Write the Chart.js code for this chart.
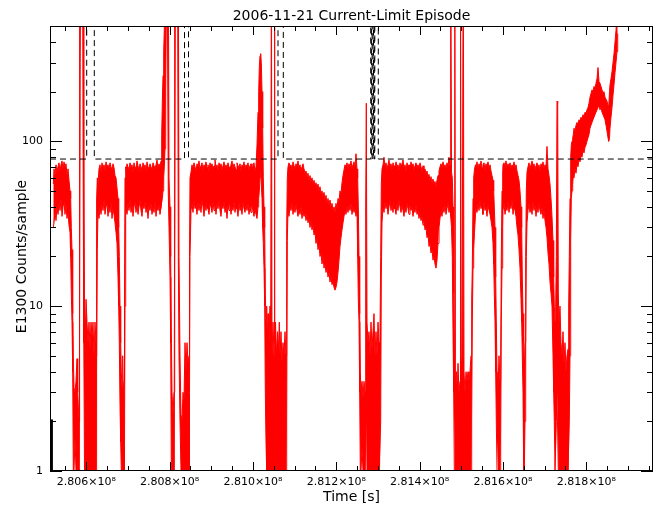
<!DOCTYPE html>
<html>
<head>
<meta charset="utf-8">
<script src="https://cdn.jsdelivr.net/npm/chart.js@4.4.1/dist/chart.umd.min.js"></script>
<style>
  html, body { margin: 0; padding: 0; background: #fff; }
  #wrap { width: 664px; height: 511px; }
</style>
</head>
<body>
<div id="wrap"><canvas id="episodeChart" width="664" height="511"></canvas></div>
<script>
// E1300 counts/sample, 2006-11-21. Time in seconds; each sample is the low/high envelope of the noisy trace.
// 2000 means the trace runs off the top of the plot.
const redTime = [
  280520820, 280522500, 280524900, 280527300, 280529700, 280532100, 280534500, 280536900, 280539300, 280541700,
  280544100, 280546500, 280548900, 280551300, 280553700, 280556100, 280558500, 280560900, 280562580, 280564020,
  280565700, 280567380, 280568820, 280570500, 280572900, 280575300, 280577700, 280579380, 280581300, 280582980,
  280583940, 280585380, 280587300, 280590900, 280592580, 280594020, 280595700, 280597620, 280599300, 280601700,
  280604100, 280606500, 280608900, 280611300, 280613700, 280616100, 280618500, 280620900, 280623300, 280624260,
  280625220, 280626420, 280628100, 280630500, 280632900, 280635300, 280637700, 280640100, 280642500, 280644900,
  280647300, 280649700, 280652100, 280654500, 280656900, 280659300, 280661700, 280664100, 280666500, 280668900,
  280671300, 280673700, 280676100, 280677780, 280679220, 280680900, 280682580, 280684020, 280685700, 280687380,
  280688820, 280690500, 280691700, 280692900, 280694580, 280695300, 280697700, 280700100, 280702500, 280704900,
  280707300, 280709700, 280712100, 280714500, 280716900, 280719300, 280721700, 280724100, 280726500, 280728900,
  280731300, 280733700, 280736100, 280738500, 280740900, 280743300, 280745700, 280748100, 280750500, 280752900,
  280755300, 280757700, 280760100, 280762500, 280764900, 280767300, 280769700, 280772100, 280774500, 280776900,
  280779300, 280780980, 280782420, 280784100, 280785780, 280787220, 280788900, 280790580, 280793700, 280796820,
  280798500, 280800900, 280802580, 280804020, 280805700, 280808100, 280810500, 280812180, 280814100, 280818900,
  280820820, 280822500, 280824900, 280827300, 280829700, 280832100, 280834500, 280836900, 280839300, 280841700,
  280844100, 280846500, 280847700, 280848900, 280851300, 280853700, 280856100, 280858500, 280860900, 280863300,
  280865700, 280868100, 280870500, 280872900, 280875300, 280877700, 280880100, 280882500, 280884900, 280887300,
  280889700, 280892100, 280894500, 280896900, 280899300, 280901700, 280904100, 280906500, 280908900, 280911300,
  280913700, 280916100, 280918500, 280920900, 280923300, 280925700, 280928100, 280930500, 280932900, 280935300,
  280937700, 280940100, 280942500, 280944900, 280947300, 280949700, 280952100, 280954500, 280956900, 280959300,
  280961700, 280964100, 280966500, 280968900, 280971300, 280973700, 280976100, 280978500, 280980900, 280983300,
  280985700, 280988100, 280990500, 280992900, 280995300, 280997700, 281000100, 281002500, 281004900, 281007300,
  281009700, 281012100, 281013780, 281015220, 281016900, 281018580, 281020020, 281021700, 281023380, 281024820,
  281026500, 281028180, 281029620, 281031300, 281032980, 281034420, 281036100, 281037780, 281039220, 281040900,
  281042580, 281044260, 281045700, 281048100, 281050500, 281051460, 281052660, 281054100, 281056500, 281058900,
  281061300, 281063220, 281064900, 281067300, 281069700, 281072100, 281074500, 281076900, 281079300, 281080980,
  281082420, 281084100, 281086500, 281088900, 281091300, 281093700, 281096100, 281098500, 281100900, 281103300,
  281105700, 281108100, 281110500, 281112900, 281115300, 281117700, 281120100, 281122500, 281124900, 281127300,
  281129700, 281132100, 281134500, 281136900, 281139300, 281141700, 281144100, 281146500, 281148900, 281151300,
  281153700, 281156100, 281158500, 281160900, 281163300, 281165700, 281168100, 281170500, 281172900, 281175300,
  281177700, 281180100, 281182500, 281184900, 281187300, 281189700, 281192100, 281194500, 281196900, 281199300,
  281201700, 281204100, 281206500, 281208900, 281211300, 281213700, 281216100, 281218500, 281220900, 281223300,
  281225700, 281228100, 281230500, 281232900, 281235300, 281237700, 281240100, 281242500, 281244900, 281247300,
  281249700, 281251380, 281252820, 281254500, 281256180, 281257620, 281259300, 281261700, 281264100, 281266500,
  281268900, 281270580, 281272020, 281273700, 281276100, 281278500, 281280900, 281283300, 281285700, 281288100,
  281290500, 281292900, 281295300, 281297700, 281300100, 281302500, 281304900, 281306580, 281308020, 281309700,
  281312100, 281314500, 281316900, 281319300, 281321700, 281324100, 281326500, 281328900, 281331300, 281333700,
  281336100, 281338500, 281340900, 281343300, 281345700, 281348100, 281350500, 281352900, 281355300, 281357700,
  281360100, 281362500, 281364900, 281367300, 281369700, 281372100, 281374500, 281376900, 281379300, 281381700,
  281384100, 281386500, 281388900, 281391300, 281393700, 281396100, 281398500, 281400900, 281403300, 281405700,
  281408100, 281410500, 281412900, 281415300, 281417700, 281420100, 281422500, 281424900, 281427300, 281429700,
  281432100, 281434500, 281436900, 281439300, 281441700, 281444100, 281446500, 281448900, 281451300, 281453700,
  281456100, 281458500, 281460900, 281463300, 281465700, 281468100, 281470500, 281472900, 281474580, 281476500,
  281478420, 281480100, 281481780, 281483220, 281484420, 281485860, 281488500, 281490420, 281492100, 281494500,
  281496900, 281498100, 281499780, 281501700, 281504820, 281506500, 281508900, 281511300, 281513700, 281516100,
  281518500, 281520900, 281523300, 281524980, 281526420, 281528100, 281529780, 281531700, 281534100, 281535300,
  281537700, 281540100, 281542500, 281544900, 281547300, 281549700, 281552100, 281554500, 281556900, 281559300,
  281561700, 281564100, 281566500, 281568900, 281571300, 281573700, 281576100, 281577780, 281579220, 281580900,
  281582580, 281584020, 281585700, 281588100, 281590500, 281592900, 281594580, 281596020, 281597700, 281599380,
  281600100, 281602500, 281604900, 281607300, 281609700, 281612100, 281614500, 281616900, 281619300, 281621700,
  281624100, 281626500, 281628900, 281631300, 281633700, 281636100, 281638500, 281640900, 281643300, 281644980,
  281646420, 281648100, 281649780, 281651220, 281652900, 281654580, 281656020, 281657700, 281660100, 281662500,
  281664900, 281667300, 281669700, 281672100, 281674500, 281676900, 281679300, 281681700, 281684100, 281686500,
  281688900, 281691300, 281693700, 281696100, 281698500, 281700900, 281703300, 281705700, 281708100, 281710500,
  281712900, 281715300, 281717700, 281720100, 281721780, 281723220, 281724900, 281726580, 281728020, 281729700,
  281731380, 281732820, 281734500, 281736900, 281739300, 281741700, 281744100, 281746500, 281748900, 281751300,
  281753700, 281756100, 281757780, 281759220, 281760900, 281762580, 281764020, 281765700, 281767380, 281768820,
  281770500, 281772900, 281775300, 281777700, 281780100, 281782500, 281784900, 281787300, 281789700, 281792100,
  281794500, 281796900, 281799300, 281801700, 281804100, 281806500, 281808900, 281811300, 281813700, 281816100,
  281818500, 281820900, 281823300, 281825700, 281828100, 281830500, 281832900, 281835300, 281837700, 281840100,
  281842500, 281844900, 281847300, 281849700, 281852100, 281853780, 281855700, 281856900, 281859300, 281861700,
  281864100, 281866500, 281868900, 281871300, 281873700, 281875380
];
const redLow = [
  30, 32, 37, 33, 40, 36, 42, 38, 45, 35,
  40, 43, 36, 41, 34, 37, 31, 28, 20, 12,
  8, 4, 1, 1, 1.6, 1, 1, 1, 1, 1,
  1, 300, 2000, 2000, 56, 6, 1, 1, 1, 1,
  1, 1, 1, 1, 1, 1, 1, 1, 1, 2,
  4, 22, 38, 34, 40, 36, 42, 38, 44, 36,
  40, 42, 35, 40, 37, 43, 34, 39, 36, 32,
  28, 24, 15, 10, 6, 2.5, 1.5, 1, 1, 1,
  1, 1, 1.4, 10, 36, 40, 36, 42, 38, 44,
  37, 41, 35, 40, 43, 37, 41, 36, 40, 44,
  38, 35, 41, 39, 43, 37, 40, 34, 41, 38,
  42, 36, 40, 37, 43, 35, 40, 38, 41, 36,
  40, 40, 45, 50, 60, 70, 90, 200, 2000, 48,
  30, 15, 6, 1, 1, 1, 1, 1, 2000, 2000,
  20, 5, 2, 1, 1, 1, 1, 1, 1, 1,
  1, 1, 3, 20, 38, 42, 37, 44, 39, 41,
  36, 43, 38, 42, 37, 44, 40, 35, 41, 38,
  43, 39, 36, 42, 40, 37, 43, 38, 41, 36,
  42, 39, 44, 38, 35, 41, 39, 43, 37, 40,
  34, 41, 38, 42, 36, 40, 38, 43, 37, 41,
  39, 35, 42, 38, 40, 36, 43, 39, 37, 41,
  38, 42, 36, 40, 37, 41, 38, 35, 39, 36,
  34, 40, 45, 50, 60, 70, 55, 45, 30, 24,
  17, 10, 3, 1.5, 1, 1, 1, 1, 1, 1,
  1, 1, 1, 1, 1, 1, 1, 1, 1, 1,
  1, 1, 1, 1, 1, 1, 1, 1, 1, 2,
  25, 38, 35, 40, 38, 42, 36, 40, 37, 41,
  38, 35, 39, 36, 40, 34, 38, 35, 37, 33,
  36, 32, 34, 30, 33, 29, 31, 27, 28, 24,
  26, 22, 24, 20, 21, 18, 20, 17, 18, 16,
  17, 15, 16, 14, 15, 13.5, 14, 13, 12.5, 13,
  14, 16, 19, 23, 26, 29, 32, 35, 38, 36,
  40, 37, 41, 38, 42, 36, 40, 37, 39, 35,
  38, 20, 11, 8, 3, 1, 1, 1.4, 1, 1,
  1, 1, 3, 1, 1, 1, 1, 1, 1, 1,
  1, 1, 1, 1, 1, 1, 1, 2, 15, 32,
  40, 37, 43, 39, 42, 36, 40, 44, 38, 41,
  37, 43, 39, 36, 42, 38, 44, 40, 37, 41,
  38, 35, 40, 37, 42, 39, 36, 41, 38, 40,
  35, 39, 37, 41, 36, 38, 34, 37, 33, 35,
  31, 33, 29, 30, 26, 27, 23, 24, 21, 22,
  19, 20, 18, 17, 19, 24, 30, 34, 38, 35,
  40, 37, 41, 36, 39, 42, 37, 40, 35, 30,
  20, 7, 3, 1, 1, 1, 1, 1, 1, 1,
  1, 1, 1, 1, 1, 1, 1, 1, 1, 1,
  1, 1, 1, 2, 8, 17, 22, 28, 36, 40,
  37, 42, 38, 44, 39, 41, 36, 43, 38, 40,
  35, 41, 38, 36, 33, 30, 24, 18, 12, 8,
  4, 2, 1, 1, 1, 1, 1.5, 8, 17, 30,
  38, 42, 36, 40, 38, 43, 37, 41, 39, 44,
  36, 40, 38, 35, 30, 27, 22, 17, 11, 8,
  5, 3, 1, 1, 2, 6, 20, 32, 38, 42,
  37, 40, 36, 43, 38, 41, 35, 40, 37, 42,
  38, 36, 40, 34, 38, 33, 30, 26, 21, 18,
  14, 12, 10, 5, 3, 2, 1, 1, 2, 3,
  3, 1, 1, 1, 1, 1, 1, 1, 1, 1,
  1, 1, 1, 2, 5, 25, 45, 50, 55, 62,
  60, 68, 64, 72, 70, 78, 75, 82, 80, 88,
  85, 92, 95, 100, 105, 110, 120, 125, 130, 135,
  140, 145, 150, 155, 160, 165, 155, 160, 150, 145,
  140, 135, 125, 115, 105, 100, 105, 120, 140, 160,
  190, 220, 260, 300, 350, 450
];
const redHigh = [
  55, 68, 62, 72, 65, 70, 74, 66, 72, 76,
  68, 75, 70, 73, 62, 68, 58, 50, 45, 30,
  22, 9, 5, 3.2, 3, 3.5, 4.8, 3, 2.3, 2,
  2000, 2000, 2000, 2000, 2000, 56, 9, 7, 11, 8,
  6, 8, 5.5, 8, 6.5, 8, 5, 8, 6, 5,
  44, 60, 55, 68, 72, 65, 74, 68, 72, 66,
  75, 70, 72, 68, 74, 70, 67, 73, 69, 62,
  60, 52, 45, 30, 20, 10, 6, 4, 3.2, 5,
  3, 3.5, 12, 60, 70, 66, 73, 70, 67, 74,
  69, 72, 65, 74, 70, 68, 76, 71, 66, 73,
  70, 67, 74, 69, 72, 66, 75, 70, 68, 73,
  70, 67, 74, 71, 68, 72, 77, 69, 73, 70,
  76, 110, 170, 250, 350, 480, 2000, 2000, 2000, 2000,
  60, 40, 20, 7, 3, 2.2, 3, 2000, 2000, 2000,
  2000, 20, 5, 2.2, 2, 3, 2.7, 6, 4, 6,
  4.5, 5, 20, 60, 65, 72, 68, 74, 70, 66,
  73, 70, 76, 68, 71, 74, 67, 72, 70, 75,
  69, 72, 66, 74, 70, 73, 68, 71, 77, 69,
  72, 66, 74, 70, 73, 67, 71, 75, 69, 72,
  68, 74, 70, 66, 72, 76, 68, 73, 70, 67,
  74, 71, 69, 73, 66, 72, 70, 75, 68, 72,
  70, 74, 67, 71, 73, 68, 70, 74, 66, 70,
  95, 150, 200, 280, 330, 340, 300, 200, 120, 60,
  40, 30, 12, 8, 10, 6, 9, 5, 7, 10,
  6, 2000, 5, 8, 5, 2000, 6, 8, 5, 7,
  5.5, 8, 5, 7, 4.5, 6, 5, 7, 5, 30,
  60, 70, 74, 70, 72, 67, 75, 71, 68, 73,
  70, 76, 69, 72, 66, 70, 73, 68, 64, 66,
  61, 64, 58, 62, 57, 60, 55, 58, 54, 56,
  52, 55, 50, 53, 48, 50, 46, 49, 44, 47,
  42, 45, 41, 44, 40, 42, 38, 40, 37, 42,
  39, 45, 43, 50, 48, 56, 62, 67, 72, 70,
  74, 68, 73, 70, 76, 69, 72, 75, 70, 84,
  68, 60, 40, 20, 9, 4, 3, 3.5, 2.8, 3.5,
  3, 40, 170, 8, 6, 7, 5, 8, 5.5, 7,
  9, 5, 7, 5, 8, 6, 7, 20, 55, 68,
  72, 80, 70, 74, 68, 72, 77, 70, 73, 67,
  74, 71, 69, 75, 70, 72, 67, 74, 70, 73,
  77, 69, 72, 66, 74, 70, 72, 68, 75, 70,
  73, 67, 71, 74, 69, 72, 68, 74, 70, 66,
  71, 65, 68, 63, 66, 61, 63, 58, 61, 56,
  59, 55, 57, 53, 58, 62, 66, 70, 73, 69,
  75, 70, 72, 68, 74, 70, 80, 71, 2000, 65,
  60, 40, 12, 5, 2000, 3.5, 4, 3, 4.5, 3,
  3.5, 2000, 4, 5, 2000, 4, 3, 4, 3.5, 4,
  3, 4, 5, 11, 17, 45, 60, 68, 72, 70,
  75, 68, 73, 70, 76, 69, 72, 74, 67, 73,
  70, 75, 68, 72, 66, 62, 58, 50, 40, 30,
  15, 8, 4, 3, 5, 3.5, 5, 20, 50, 65,
  72, 74, 70, 76, 69, 73, 70, 74, 68, 72,
  70, 75, 69, 72, 66, 62, 58, 50, 40, 30,
  15, 9, 6, 4, 6, 20, 50, 65, 70, 74,
  68, 72, 76, 70, 73, 67, 71, 74, 69, 72,
  66, 73, 70, 75, 68, 72, 70, 93, 68, 62,
  55, 45, 35, 25, 15, 10, 8, 10, 20, 175,
  170, 12, 8, 10, 6, 5, 7, 4.5, 6, 4,
  5, 5.5, 10, 20, 45, 80, 95, 100, 105, 110,
  120, 115, 125, 130, 128, 135, 132, 140, 137, 145,
  142, 150, 148, 155, 160, 170, 185, 195, 205, 200,
  215, 210, 225, 240, 280, 230, 225, 215, 205, 195,
  200, 185, 180, 175, 165, 160, 200, 220, 240, 265,
  300, 340, 400, 470, 600, 2000
];

// black trace, only visible at the left edge
const blackTime = [280513000, 280519900];
const blackLow = [1, 1];
const blackHigh = [2.04, 2.04];

// current-limit level (dashed); jumps off the top during the episodes
const limitTime = [280512900, 280600980, 280619220, 280835700, 280845300, 281060100, 281072820,
  281282580, 281284740, 281285940, 281288100, 281289300, 281291220, 281292420, 281300820, 281960100];
const limitLevel = [78, 2000, 78, 2000, 78, 2000, 78, 2000, 78, 2000, 78, 2000, 78, 2000, 78, 78];

const xLabelTicks = [280600000, 280800000, 281000000, 281200000, 281400000, 281600000, 281800000];
const yLabelTicks = [1, 10, 100];
const xRange = [280512900, 281960100];
const yRange = [1, 500];

const toPoints = (ts, vs) => ts.map((t, i) => ({ x: t, y: vs[i] }));

// IDL style frame: box, inward ticks on all four sides, titles
const idlFrame = {
  id: 'idlFrame',
  afterDraw(chart) {
    const { ctx, chartArea: area, scales: { x, y } } = chart;
    ctx.save();
    ctx.strokeStyle = '#000';
    ctx.lineWidth = 1;
    ctx.strokeRect(area.left + 0.5, area.top + 0.5, area.width - 1, area.height - 1);

    ctx.beginPath();
    for (let v = Math.ceil(x.min / 5e4) * 5e4; v <= x.max; v += 5e4) {
      const px = Math.round(x.getPixelForValue(v)) + 0.5;
      const len = v % 2e5 === 0 ? 9 : 5;
      ctx.moveTo(px, area.bottom);
      ctx.lineTo(px, area.bottom - len);
      ctx.moveTo(px, area.top);
      ctx.lineTo(px, area.top + len);
    }
    for (let d = 1; d <= 100; d *= 10) {
      for (let m = 1; m <= 9; m++) {
        const v = d * m;
        if (v > y.max) break;
        const py = Math.round(y.getPixelForValue(v)) + 0.5;
        const len = m === 1 ? 12 : 6;
        ctx.moveTo(area.left, py);
        ctx.lineTo(area.left + len, py);
        ctx.moveTo(area.right, py);
        ctx.lineTo(area.right - len, py);
      }
    }
    ctx.stroke();

    const midX = (area.left + area.right) / 2;
    ctx.fillStyle = '#000';
    ctx.font = '14px "DejaVu Sans"';
    ctx.textAlign = 'center';
    ctx.textBaseline = 'middle';
    ctx.fillText('2006-11-21 Current-Limit Episode', midX, 16);
    ctx.fillText('Time [s]', midX, 497);
    ctx.translate(22, (area.top + area.bottom) / 2 + 8);
    ctx.rotate(-Math.PI / 2);
    ctx.fillText('E1300 Counts/sample', 0, 0);
    ctx.restore();
  }
};

Chart.defaults.font.family = '"DejaVu Sans", sans-serif';
Chart.defaults.color = '#000';

const line = { pointRadius: 0, borderWidth: 1, tension: 0, clip: 0 };

new Chart(document.getElementById('episodeChart'), {
  type: 'line',
  data: {
    datasets: [
      { ...line, data: toPoints(limitTime, limitLevel), borderColor: '#000', borderDash: [6, 4], stepped: true, fill: false },
      { ...line, data: toPoints(redTime, redHigh), borderColor: '#ff0000', backgroundColor: '#ff0000', fill: '+1' },
      { ...line, data: toPoints(redTime, redLow), borderColor: '#ff0000', fill: false },
      { ...line, data: toPoints(blackTime, blackHigh), borderColor: '#000', backgroundColor: '#000', fill: '+1' },
      { ...line, data: toPoints(blackTime, blackLow), borderColor: '#000', fill: false }
    ]
  },
  options: {
    responsive: false,
    devicePixelRatio: 1,
    animation: false,
    events: [],
    layout: { padding: { left: 0, right: 11, top: 26, bottom: 0 } },
    plugins: { legend: { display: false }, tooltip: { enabled: false }, title: { display: false } },
    scales: {
      x: {
        type: 'linear',
        min: xRange[0],
        max: xRange[1],
        grid: { display: false, drawTicks: false },
        border: { display: false },
        afterBuildTicks: s => { s.ticks = xLabelTicks.map(v => ({ value: v })); },
        afterFit: s => { s.height = 40; },
        ticks: {
          autoSkip: false,
          maxRotation: 0,
          padding: 5,
          font: { size: 11 },
          callback: v => (v / 1e8).toFixed(3) + '×10⁸'
        }
      },
      y: {
        type: 'logarithmic',
        min: yRange[0],
        max: yRange[1],
        grid: { display: false, drawTicks: false },
        border: { display: false },
        afterBuildTicks: s => { s.ticks = yLabelTicks.map(v => ({ value: v })); },
        afterFit: s => { s.width = 50; },
        ticks: {
          autoSkip: false,
          padding: 7,
          font: { size: 11 },
          callback: v => String(v)
        }
      }
    }
  },
  plugins: [idlFrame]
});
</script>
</body>
</html>
